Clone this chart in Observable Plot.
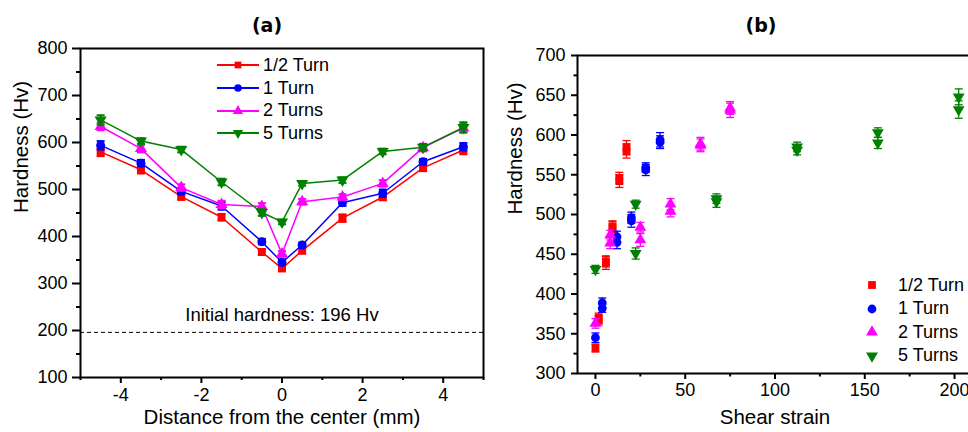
<!DOCTYPE html>
<html><head><meta charset="utf-8">
<script src="https://cdn.jsdelivr.net/npm/d3@7"></script>
<script src="https://cdn.jsdelivr.net/npm/@observablehq/plot@0.6"></script>
<style>
html,body{margin:0;padding:0;background:#fff;overflow:hidden;}
#wrap{position:relative;width:968px;height:432px;overflow:hidden;font-family:"Liberation Sans",Arial,sans-serif;color:#000;}
.panel{position:absolute;top:0;}
.title{position:absolute;font-family:"DejaVu Sans",sans-serif;font-weight:bold;font-size:19px;transform:translate(-50%,-50%);white-space:nowrap;}
.lg{position:absolute;display:flex;align-items:center;height:22px;font-size:18px;white-space:nowrap;}
.lg svg{display:block;}
</style></head>
<body><div id="wrap"></div>
<script>
// ---------------- data ----------------
const seriesNames = ["1/2 Turn", "1 Turn", "2 Turns", "5 Turns"];
const seriesColors = ["#ff0000", "#0000ff", "#ff00ff", "#008000"];
const xPos = [-4.5, -3.5, -2.5, -1.5, -0.5, 0, 0.5, 1.5, 2.5, 3.5, 4.5];
const hvHalf = [580, 542, 485, 441, 367, 332, 370, 439, 484, 546, 584];
const hvOne  = [594, 556, 496, 465, 389, 345, 382, 472, 492, 559, 591];
const hvTwo  = [634, 587, 504, 468, 464, 363, 474, 484, 513, 589, 631];
const hvFive = [648, 603, 585, 516, 451, 431, 513, 520, 581, 590, 632];
const errHalf = [9, 8, 7, 7, 6, 5, 6, 8, 7, 7, 9];
const errOne  = [9, 7, 7, 8, 6, 6, 5, 7, 8, 6, 8];
const errTwo  = [8, 8, 7, 8, 7, 6, 6, 6, 7, 8, 9];
const errFive = [10, 6, 6, 7, 7, 5, 5, 6, 6, 7, 11];
const strainHalf = [17.3, 13.3, 9.5, 5.8, 1.8, 0, 1.8, 5.8, 9.5, 13.3, 17.3];
const strainOne  = [36, 28, 20, 12, 3.8, 0, 3.8, 12, 20, 28, 36];
const strainTwo  = [75, 58.5, 41.8, 25, 8.2, 0, 8.2, 25, 41.8, 58.5, 75];
const strainFive = [202.3, 157.3, 112.3, 67.4, 22.4, 0, 22.4, 67.4, 112.3, 157.3, 202.3];
const initialHardness = 196;
const initialLabel = "Initial hardness: 196 Hv";
// tick labels
const aXTicks = [-4, -2, 0, 2, 4];
const aXMinor = [-5, -3, -1, 1, 3, 5];
const aYTicks = [100, 200, 300, 400, 500, 600, 700, 800];
const aYMinor = [150, 250, 350, 450, 550, 650, 750];
const bXTicks = [0, 50, 100, 150, 200];
const bXMinor = [25, 75, 125, 175];
const bYTicks = [300, 350, 400, 450, 500, 550, 600, 650, 700];
const bYMinor = [325, 375, 425, 475, 525, 575, 625, 675];

// ---------------- helpers ----------------
const symDown = {draw(ctx, size) {
  const y = -Math.sqrt(size / (Math.sqrt(3) * 3));
  ctx.moveTo(0, -y * 2); ctx.lineTo(-Math.sqrt(3) * y, y); ctx.lineTo(Math.sqrt(3) * y, y); ctx.closePath();
}};
const symCap = {draw(ctx, size) {
  const w = Math.sqrt(size / Math.PI);
  ctx.moveTo(-w, 0); ctx.lineTo(w, 0);
}};
const seriesSymbols = ["square", "circle", "triangle", symDown];
const hvs = [hvHalf, hvOne, hvTwo, hvFive];
const errs = [errHalf, errOne, errTwo, errFive];
const strains = [strainHalf, strainOne, strainTwo, strainFive];

const series = seriesNames.map((name, k) => ({
  name, color: seriesColors[k], symbol: seriesSymbols[k],
  rows: xPos.map((x, i) => ({x, strain: strains[k][i], y: hvs[k][i], e: errs[k][i]}))
}));

const wrap = document.getElementById("wrap");
const font = "'Liberation Sans', Arial, sans-serif";

// ---------------- panel (a) ----------------
const marksA = [
  Plot.ruleY([initialHardness], {stroke: "#000", strokeWidth: 1, strokeDasharray: "4,3"}),
  Plot.text([initialLabel], {x: 0, y: initialHardness, dy: -17, text: d => d, fontSize: 18.5, fill: "#000"})
];
for (const s of series) {
  marksA.push(
    Plot.line(s.rows, {x: "x", y: "y", stroke: s.color, strokeWidth: 1.5}),
    Plot.ruleX(s.rows, {x: "x", y1: d => d.y - d.e, y2: d => d.y + d.e, stroke: s.color, strokeWidth: 2}),
    Plot.dot(s.rows, {x: "x", y: d => d.y + d.e, symbol: symCap, r: 4, stroke: s.color, strokeWidth: 2, fill: "none"}),
    Plot.dot(s.rows, {x: "x", y: d => d.y - d.e, symbol: symCap, r: 4, stroke: s.color, strokeWidth: 2, fill: "none"}),
    Plot.dot(s.rows, {x: "x", y: "y", symbol: s.symbol, r: 4.5, fill: s.color, stroke: "none"})
  );
}
marksA.push(
  Plot.frame({stroke: "#000", strokeWidth: 2}),
  Plot.axisY({ticks: aYTicks, tickSize: 8, tickPadding: 5, strokeWidth: 2, label: null, tickFormat: d => String(d)}),
  Plot.axisY({ticks: aYMinor, tickSize: 4, strokeWidth: 2, label: null, tickFormat: () => ""}),
  Plot.axisX({ticks: aXTicks, tickSize: 6, tickPadding: 5, strokeWidth: 2, label: null, tickFormat: d => String(d)}),
  Plot.axisX({ticks: aXMinor, tickSize: 3, strokeWidth: 2, label: null, tickFormat: () => ""}),
  Plot.text(["Distance from the center (mm)"], {frameAnchor: "bottom", dy: 46, text: d => d, fontSize: 20.5, fill: "#000"}),
  Plot.text(["Hardness (Hv)"], {frameAnchor: "left", dx: -59, rotate: -90, text: d => d, fontSize: 20.5, fill: "#000"})
);
const plotA = Plot.plot({
  width: 500, height: 432,
  marginLeft: 80, marginRight: 17, marginTop: 48, marginBottom: 55,
  x: {domain: [-5, 5]},
  y: {domain: [100, 800]},
  style: {fontFamily: font, fontSize: "18px", background: "transparent", overflow: "visible", color: "#000"},
  marks: marksA
});
plotA.classList.add("panel");
plotA.style.left = "0px";
wrap.appendChild(plotA);

// ---------------- panel (b) ----------------
const marksB = [];
for (const s of series) {
  marksB.push(
    Plot.ruleX(s.rows, {x: "strain", y1: d => d.y - d.e, y2: d => d.y + d.e, stroke: s.color, strokeWidth: 1.3}),
    Plot.dot(s.rows, {x: "strain", y: d => d.y + d.e, symbol: symCap, r: 4, stroke: s.color, strokeWidth: 1.3, fill: "none"}),
    Plot.dot(s.rows, {x: "strain", y: d => d.y - d.e, symbol: symCap, r: 4, stroke: s.color, strokeWidth: 1.3, fill: "none"}),
    Plot.dot(s.rows, {x: "strain", y: "y", symbol: s.symbol, r: 4.4, fill: s.color, stroke: "none"})
  );
}
marksB.push(
  Plot.frame({stroke: "#000", strokeWidth: 2}),
  Plot.axisY({ticks: bYTicks, tickSize: 6, tickPadding: 6, strokeWidth: 2, label: null, tickFormat: d => String(d)}),
  Plot.axisY({ticks: bYMinor, tickSize: 3.5, strokeWidth: 2, label: null, tickFormat: () => ""}),
  Plot.axisX({ticks: bXTicks, tickSize: 6, tickPadding: 4, strokeWidth: 2, label: null, tickFormat: d => String(d)}),
  Plot.axisX({ticks: bXMinor, tickSize: 3.5, strokeWidth: 2, label: null, tickFormat: () => ""}),
  Plot.text(["Shear strain"], {frameAnchor: "bottom", dy: 50, text: d => d, fontSize: 20.5, fill: "#000"}),
  Plot.text(["Hardness (Hv)"], {frameAnchor: "left", dx: -62, rotate: -90, text: d => d, fontSize: 20.5, fill: "#000"})
);
const plotB = Plot.plot({
  width: 490, height: 432,
  marginLeft: 87, marginRight: 8, marginTop: 55, marginBottom: 59,
  x: {domain: [-10, 210]},
  y: {domain: [300, 700]},
  style: {fontFamily: font, fontSize: "18px", background: "transparent", overflow: "visible", color: "#000"},
  marks: marksB
});
plotB.classList.add("panel");
plotB.style.left = "490px";
wrap.appendChild(plotB);

// ---------------- titles ----------------
function addTitle(txt, cx, cy) {
  const d = document.createElement("div");
  d.className = "title"; d.textContent = txt;
  d.style.left = cx + "px"; d.style.top = cy + "px";
  wrap.appendChild(d);
}
addTitle("(a)", 267, 25);
addTitle("(b)", 761, 25);

// ---------------- legends ----------------
function symPath(sym, r) {
  const s = typeof sym === "string" ? {square: d3.symbolSquare, circle: d3.symbolCircle, triangle: d3.symbolTriangle}[sym] : sym;
  return d3.symbol(s, Math.PI * r * r)();
}
function legendA(left, tops) {
  series.forEach((s, k) => {
    const row = document.createElement("div");
    row.className = "lg";
    row.style.left = left + "px"; row.style.top = (tops[k] - 11) + "px";
    row.innerHTML = `<svg width="42" height="22"><line x1="0" x2="42" y1="11" y2="11" stroke="${s.color}" stroke-width="2"/>` +
      `<path transform="translate(21,11)" d="${symPath(s.symbol, 3.8)}" fill="${s.color}"/></svg>` +
      `<span style="margin-left:4px">${s.name}</span>`;
    wrap.appendChild(row);
  });
}
function legendB(left, tops) {
  series.forEach((s, k) => {
    const row = document.createElement("div");
    row.className = "lg";
    row.style.left = left + "px"; row.style.top = (tops[k] - 11) + "px";
    row.innerHTML = `<svg width="14" height="22"><path transform="translate(7,11)" d="${symPath(s.symbol, 4.4)}" fill="${s.color}"/></svg>` +
      `<span style="margin-left:19px">${s.name}</span>`;
    wrap.appendChild(row);
  });
}
legendA(217, [65, 88.3, 110.7, 133.3]);
legendB(865, [285, 308.5, 332, 355.5]);
</script>
</body></html>
